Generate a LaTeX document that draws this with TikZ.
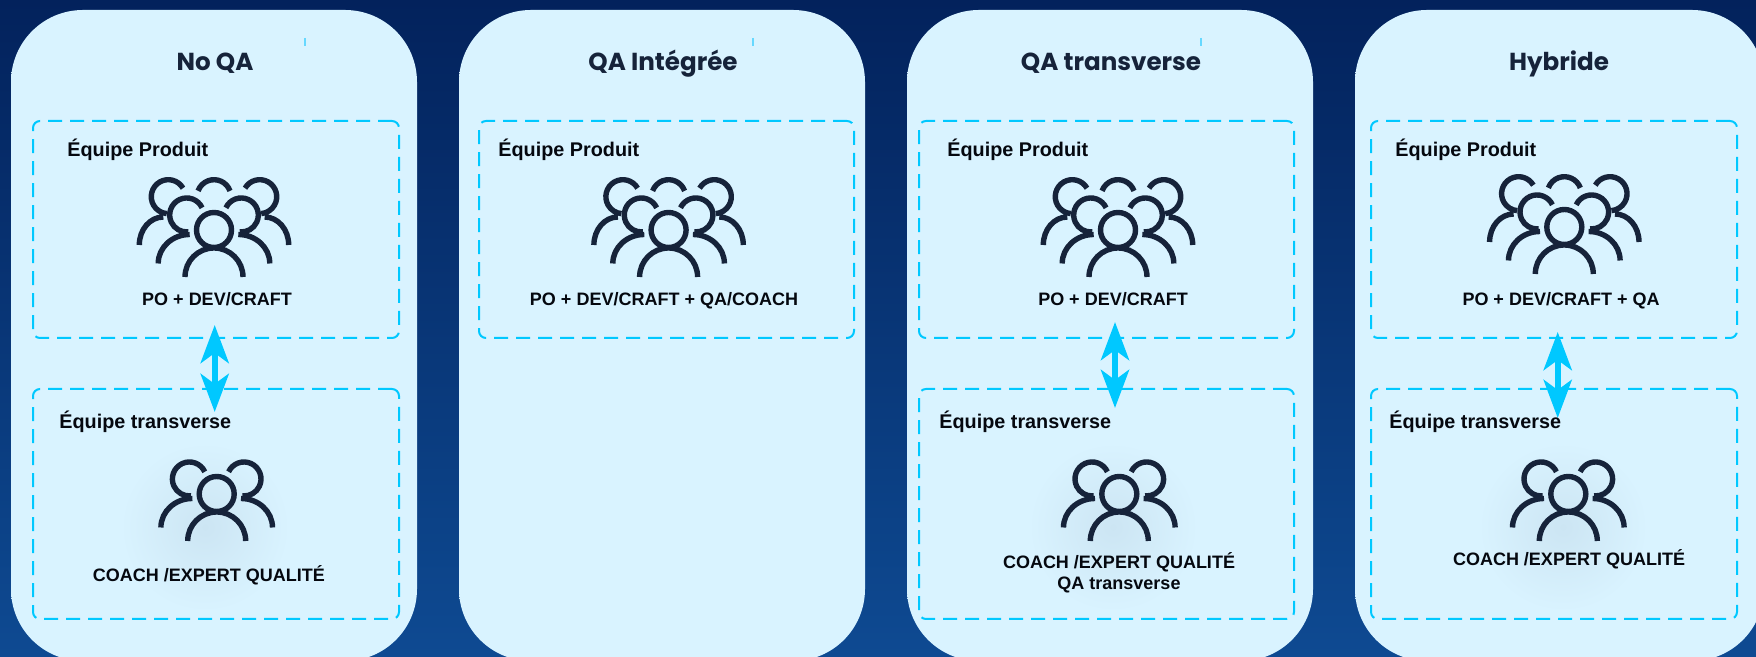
\documentclass[tikz,border=0pt]{standalone}
\usepackage{fontspec}
\setmainfont{Liberation Sans}
\newfontfamily\titlefont{Poppins}
\usetikzlibrary{arrows.meta, positioning}
\definecolor{panelblue}{HTML}{D9F3FF}
\definecolor{paneledge}{HTML}{CBE8F6}
\definecolor{glowblue}{HTML}{CCE5F3}
\definecolor{dashblue}{HTML}{00C8FF}
\definecolor{tickblue}{HTML}{66D8FF}
\definecolor{inkblue}{HTML}{16233A}
\definecolor{labelink}{HTML}{05080F}
\definecolor{backtop}{HTML}{03225C}
\definecolor{backbottom}{HTML}{0E4A92}
\pgfdeclarehorizontalshading{panelshade}{100bp}{color(0bp)=(panelblue); color(82bp)=(panelblue); color(100bp)=(paneledge)}
\tikzstyle{panel} = [rectangle, rounded corners=36pt, minimum width=203pt, minimum height=325.5pt, outer sep=0pt, shading=panelshade]
\tikzstyle{teambox} = [rectangle, rounded corners=3.5pt, minimum width=183pt, minimum height=108.5pt, outer sep=0pt, draw=dashblue, line width=1pt, dash pattern=on 7pt off 4pt]
\tikzstyle{arrow} = [dashblue, line width=3.2pt, {Stealth[length=19pt,width=14pt,inset=5pt]}-{Stealth[length=19pt,width=14pt,inset=5pt]}]
\tikzstyle{title} = [anchor=base, inner sep=0pt, text=inkblue, font=\titlefont\bfseries\fontsize{12.3}{15}\selectfont]
\tikzstyle{heading} = [anchor=base west, inner sep=0pt, text=labelink, font=\bfseries\fontsize{9.9}{12}\selectfont]
\tikzstyle{members} = [anchor=base, inner sep=0pt, align=center, text=labelink, font=\bfseries\fontsize{9}{10.5}\selectfont]
\tikzstyle{tickmark} = [tickblue, line width=1pt]
\tikzstyle{glow} = [inner color=glowblue, outer color=panelblue]
\tikzset{
	team small/.pic = {
		\draw [inkblue, line width=2.7pt]
			(0,0) circle [radius=17.5]
			(-29,-47) arc [start angle=180, end angle=0, radius=29]
			(-11.9,22.2) arc [start angle=25, end angle=275, radius=17]
			(11.9,22.2) arc [start angle=155, end angle=-95, radius=17]
			(-24.3,-4.5) arc [start angle=90, end angle=180, x radius=31.5, y radius=29]
			(24.3,-4.5) arc [start angle=90, end angle=0, x radius=31.5, y radius=29];
	},% end of team small
	team large/.pic = {
		\pic {team small};
		\draw [inkblue, line width=2.7pt]
			(16,39.1) arc [start angle=20, end angle=160, radius=17]
			(-31,41.8) arc [start angle=30, end angle=265, radius=17]
			(31,41.8) arc [start angle=150, end angle=-85, radius=17]
			(-50.7,13) arc [start angle=90, end angle=180, x radius=24, y radius=28]
			(50.7,13) arc [start angle=90, end angle=0, x radius=24, y radius=28];
	},% end of team large
}
\begin{document}
\begin{tikzpicture}[x=0.5pt, y=0.5pt]
\useasboundingbox (0,0) rectangle (1756,657);
\clip (0,0) rectangle (1756,657);
\shade [top color=backtop, bottom color=backbottom] (0,0) rectangle (1756,657);

% Placement of panels
\node (panelA) [panel] at (214,321.5) {};
\node (panelB) [panel, right=21pt of panelA] {};
\node (panelC) [panel, right=21pt of panelB] {};
\node (panelD) [panel, right=21pt of panelC, minimum width=204.5pt] {};

% Shadows under the small teams
\shade [glow] (205,130) circle [radius=85];
\shade [glow] (1113,130) circle [radius=85];
\shade [glow] (1563,130) circle [radius=85];

% Small marks near the titles
\draw [tickmark] (305,619) -- (305,611);
\draw [tickmark] (753,619) -- (753,611);
\draw [tickmark] (1201,619) -- (1201,611);

% Placement of boxes
\node (prodA) [teambox] at (216,427.5) {};
\node (transA) [teambox, minimum height=115pt] at (216,153) {};
\node (prodB) [teambox, minimum width=187.5pt] at (666.5,427.5) {};
\node (prodC) [teambox, minimum width=187.5pt] at (1106.5,427.5) {};
\node (transC) [teambox, minimum width=187.5pt, minimum height=115pt] at (1106.5,153) {};
\node (prodD) [teambox] at (1554,427.5) {};
\node (transD) [teambox, minimum height=115pt] at (1554,153) {};

% Placement of edges
\coordinate (linkAtop) at (214.7,332);
\coordinate (linkAbot) at (214.7,245);
\coordinate (linkCtop) at (1115,335);
\coordinate (linkCbot) at (1115,249);
\coordinate (linkDtop) at (1557.7,325);
\coordinate (linkDbot) at (1557.7,239);
\draw [arrow] (linkAtop) -- (linkAbot);
\draw [arrow] (linkCtop) -- (linkCbot);
\draw [arrow] (linkDtop) -- (linkDbot);

% Titles
\node (titleA) [title] at (215,586) {No QA};
\node (titleB) [title] at (663,586) {QA Intégrée};
\node (titleC) [title] at (1111,586) {QA transverse};
\node (titleD) [title] at (1559,586) {Hybride};

% Headings
\node (headProdA) [heading] at (67,500) {Équipe Produit};
\node (headTransA) [heading] at (59,228) {Équipe transverse};
\node (headProdB) [heading] at (498,500) {Équipe Produit};
\node (headProdC) [heading] at (947,500) {Équipe Produit};
\node (headTransC) [heading] at (939,228) {Équipe transverse};
\node (headProdD) [heading] at (1395,500) {Équipe Produit};
\node (headTransD) [heading] at (1389,228) {Équipe transverse};

% Teams
\pic at (214,427) {team large};
\pic at (668.6,427) {team large};
\pic at (1118,427) {team large};
\pic at (1564.3,430) {team large};
\pic at (216.7,163) {team small};
\pic at (1119.3,163) {team small};
\pic at (1568.3,163) {team small};

% Members
\node (memProdA) [members] at (217,351) {PO + DEV/CRAFT};
\node (memProdB) [members] at (664,351) {PO + DEV/CRAFT + QA/COACH};
\node (memProdC) [members] at (1113,351) {PO + DEV/CRAFT};
\node (memProdD) [members] at (1561,351) {PO + DEV/CRAFT + QA};
\node (memTransA) [members] at (209,75) {COACH /EXPERT QUALITÉ};
\node (memTransC) [members, anchor=center] at (1119,84) {COACH /EXPERT QUALITÉ\\QA transverse};
\node (memTransD) [members] at (1569,91) {COACH /EXPERT QUALITÉ};

\end{tikzpicture}
\end{document}
